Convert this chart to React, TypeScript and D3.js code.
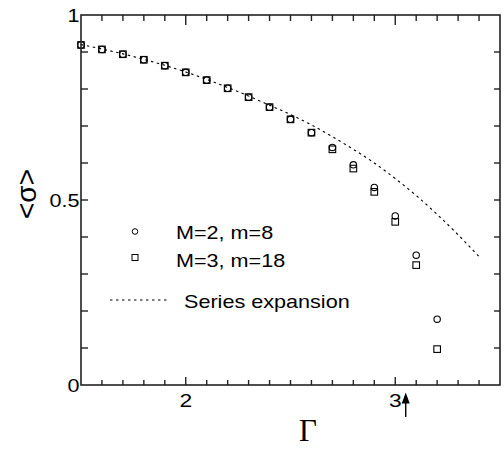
import React from 'react';
import * as d3 from 'd3';

// Γ values where the simulations were sampled
const gammas = [1.5, 1.6, 1.7, 1.8, 1.9, 2.0, 2.1, 2.2, 2.3, 2.4, 2.5, 2.6, 2.7, 2.8, 2.9, 3.0, 3.1, 3.2];
const sigmaM2 = [0.919, 0.907, 0.894, 0.879, 0.863, 0.845, 0.824, 0.802, 0.778, 0.751, 0.718, 0.682, 0.642, 0.595, 0.534, 0.457, 0.351, 0.178];
const sigmaM3 = [0.919, 0.907, 0.894, 0.879, 0.863, 0.845, 0.824, 0.802, 0.778, 0.751, 0.718, 0.682, 0.637, 0.585, 0.522, 0.441, 0.324, 0.097];

// series expansion curve
const seriesGammas = [1.5, 1.6, 1.7, 1.8, 1.9, 2.0, 2.1, 2.2, 2.3, 2.4, 2.5, 2.6, 2.7, 2.8, 2.9, 3.0, 3.1, 3.2, 3.3, 3.4];
const seriesSigma = [0.92, 0.908, 0.895, 0.88, 0.864, 0.846, 0.826, 0.804, 0.781, 0.756, 0.731, 0.703, 0.671, 0.637, 0.600, 0.558, 0.512, 0.461, 0.406, 0.347];

const xMajor = [2, 3];
const yMajor = [0, 0.5, 1];
const legendLabels = ['M=2, m=8', 'M=3, m=18', 'Series expansion'];
const arrowGamma = 3.05;

const W = 504;
const H = 453;
const margin = { top: 15, right: 4, bottom: 68, left: 81 };
const font = 'Arial, "Liberation Sans", sans-serif';

// the original's lettering is a bit wider than Arial at the same height
function Label({ x, y, anchor = 'start', size = 18, children }: any) {
  return (
    <g transform={`translate(${x},${y}) scale(1.2,1)`}>
      <text textAnchor={anchor} fontFamily={font} fontSize={size} fill="#000">
        {children}
      </text>
    </g>
  );
}

export default function App() {
  const x = d3.scaleLinear().domain([1.5, 3.5]).range([margin.left, W - margin.right]);
  const y = d3.scaleLinear().domain([0, 1]).range([H - margin.bottom, margin.top]);

  const xMinor = d3.range(16, 35).map((d) => d / 10);
  const yMinor = d3.range(1, 10).map((d) => d / 10);

  const line = d3
    .line<number>()
    .x((_, i) => x(seriesGammas[i]))
    .y((d) => y(d))
    .curve(d3.curveMonotoneX);

  const x0 = x.range()[0];
  const x1 = x.range()[1];
  const y0 = y.range()[0];
  const y1 = y.range()[1];
  const ax = x(arrowGamma);

  return (
    <svg width={W} height={H} style={{ position: 'absolute', left: 0, top: 0, background: '#fff' }}>
      {/* series expansion */}
      <path d={line(seriesSigma) || ''} fill="none" stroke="#000" strokeWidth={1.1} strokeDasharray="2.5,3.5" />

      {/* markers */}
      {gammas.map((g, i) => (
        <circle key={'c' + i} cx={x(g)} cy={y(sigmaM2[i])} r={3.2} fill="none" stroke="#000" strokeWidth={1.1} />
      ))}
      {gammas.map((g, i) => (
        <rect key={'s' + i} x={x(g) - 3.3} y={y(sigmaM3[i]) - 3.3} width={6.6} height={6.6} fill="none" stroke="#000" strokeWidth={1.1} />
      ))}

      {/* frame */}
      <rect x={x0} y={y1} width={x1 - x0} height={y0 - y1} fill="none" stroke="#222" strokeWidth={1.6} />

      {/* x ticks bottom and top */}
      {xMinor.map((t) => {
        const major = xMajor.includes(Math.round(t * 10) / 10);
        return (
          <g key={'xt' + t} stroke="#222" strokeWidth={1.4}>
            <line x1={x(t)} x2={x(t)} y1={y0} y2={y0 - (major ? 8 : 5)} />
            <line x1={x(t)} x2={x(t)} y1={y1} y2={y1 + (major ? 10 : 6)} />
          </g>
        );
      })}
      {/* y ticks left and right */}
      {yMinor.map((t) => (
        <g key={'yt' + t} stroke="#222" strokeWidth={1.4}>
          <line x1={x0} x2={x0 + 7} y1={y(t)} y2={y(t)} />
          <line x1={x1} x2={x1 - 6} y1={y(t)} y2={y(t)} />
        </g>
      ))}

      {/* tick labels */}
      {xMajor.map((t) => (
        <Label key={'xl' + t} x={x(t)} y={y0 + 22} anchor="middle" size={19}>
          {t}
        </Label>
      ))}
      {yMajor.map((t) => (
        <Label key={'yl' + t} x={x0 - 1.5} y={y(t) + 7} anchor="end" size={18}>
          {t}
        </Label>
      ))}

      {/* arrow marking Γ */}
      <line x1={ax} x2={ax} y1={417} y2={400} stroke="#000" strokeWidth={1.4} />
      <path d={`M${ax},392.5 L${ax - 4},403.5 L${ax + 4},403.5 Z`} fill="#000" />

      {/* axis titles */}
      <text x={308} y={441} textAnchor="middle" fontFamily='"Liberation Serif", "Times New Roman", serif' fontSize={31} fill="#000">
        Γ
      </text>
      <text transform="translate(36,194) rotate(-90)" textAnchor="middle" fontFamily={font} fontSize={28} fill="#000">
        {'<σ>'}
      </text>

      {/* legend */}
      <circle cx={135} cy={231.5} r={2.8} fill="none" stroke="#000" strokeWidth={1} />
      <rect x={132} y={254.5} width={6} height={6} fill="none" stroke="#000" strokeWidth={1} />
      <line x1={110} x2={170} y1={300} y2={300} stroke="#000" strokeWidth={1} strokeDasharray="2.5,3.5" />
      <Label x={176} y={239}>{legendLabels[0]}</Label>
      <Label x={176} y={266.5}>{legendLabels[1]}</Label>
      <Label x={184} y={307.5}>{legendLabels[2]}</Label>
    </svg>
  );
}
